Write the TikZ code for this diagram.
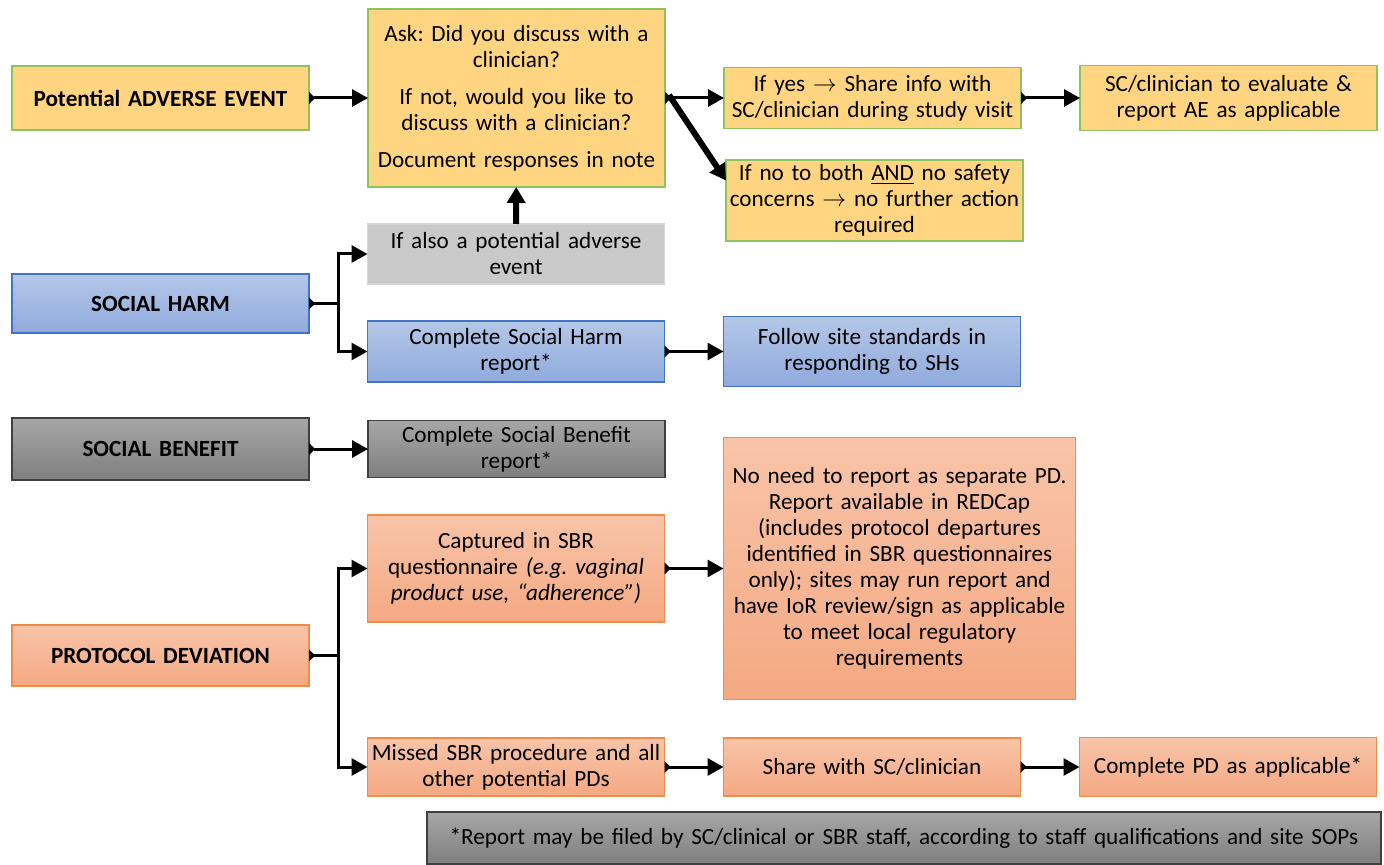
\documentclass[tikz,border=0pt]{standalone}
\usepackage{fontspec}
\setmainfont{Carlito}
\usetikzlibrary{arrows.meta, positioning}
\definecolor{aeyellow}{HTML}{FFD581}
\definecolor{aegreen}{HTML}{8CC35C}
\definecolor{shtop}{HTML}{B4C7E7}
\definecolor{shbot}{HTML}{8FAADC}
\definecolor{shborder}{HTML}{4472C4}
\definecolor{sbtop}{HTML}{A6A6A6}
\definecolor{sbbot}{HTML}{7F7F7F}
\definecolor{sbborder}{HTML}{404040}
\definecolor{pdtop}{HTML}{F8C4A8}
\definecolor{pdbot}{HTML}{F4A983}
\definecolor{pdborder}{HTML}{F08C4A}
\definecolor{alsofill}{HTML}{C9C9C9}
\definecolor{alsoborder}{HTML}{D6D6D6}
\frenchspacing

\begin{document}
\begin{tikzpicture}[x=0.5pt, y=-0.5pt, font=\fontsize{11.6}{13}\selectfont]
    \tikzstyle{box} = [rectangle, minimum width=148.5pt, text width=145pt, align=center, inner sep=1.5pt, outer sep=0pt, line width=0.6pt]
    \tikzstyle{aebox} = [box, draw=aegreen, fill=aeyellow]
    \tikzstyle{shbox} = [box, draw=shborder, top color=shtop, bottom color=shbot]
    \tikzstyle{sbbox} = [box, draw=sbborder, top color=sbtop, bottom color=sbbot]
    \tikzstyle{pdbox} = [box, draw=pdborder, top color=pdtop, bottom color=pdbot]
    \tikzstyle{flow} = [line width=1.5pt, {Triangle[reversed, length=3pt, width=6pt]}-{Triangle[length=8pt, width=8.5pt]}]
    \tikzstyle{stem} = [line width=1.5pt, {Triangle[reversed, length=3pt, width=6pt]}-]
    \tikzstyle{branch} = [line width=1.5pt, -{Triangle[length=8pt, width=8.5pt]}]
    \tikzstyle{bigflow} = [line width=3pt, -{Triangle[length=8pt, width=9pt]}]

    \useasboundingbox (0,0) rectangle (1384,865);

    % adverse event row
    \node (pae) [aebox, minimum height=32pt] at (160.5,98) {\textbf{Potential ADVERSE EVENT}};
    \node (ask) [aebox, minimum height=89pt] at (516.5,98) {Ask: Did you discuss with a\\ clinician?\\[5.5pt] If not, would you like to\\ discuss with a clinician?\\[5.5pt] Document responses in note};
    \node (yes) [aebox, minimum height=30.5pt, right=29.5pt of ask] {If yes $\rightarrow$ Share info with\\ SC/clinician during study visit};
    \node (eval) [aebox, minimum height=32.5pt, right=29.5pt of yes] {SC/clinician to evaluate \&\\ report AE as applicable};
    \node (no) [aebox, minimum height=40.5pt] at (874.5,200.5) {If no to both \underline{AND} no safety\\ concerns $\rightarrow$ no further action\\ required};

    % social harm
    \node (also) [box, draw=alsoborder, fill=alsofill, minimum height=30pt] at (516,254) {If also a potential adverse\\ event};
    \node (sh) [shbox, minimum height=29.5pt] at (160.5,303.5) {\textbf{SOCIAL HARM}};
    \node (shrep) [shbox, minimum height=30.5pt] at (516,351.5) {Complete Social Harm\\ report*};
    \node (follow) [shbox, minimum height=35pt, right=29.5pt of shrep] {Follow site standards in\\ responding to SHs};

    % social benefit
    \node (sb) [sbbox, minimum height=31pt] at (160.5,449) {\textbf{SOCIAL BENEFIT}};
    \node (sbrep) [sbbox, minimum height=28.5pt, right=29.5pt of sb] {Complete Social Benefit\\ report*};

    % protocol deviation
    \node (capt) [pdbox, minimum height=53.5pt] at (516,568.5) {Captured in SBR\\ questionnaire \textit{(e.g. vaginal}\\ \textit{product use, “adherence”)}};
    \node (noneed) [pdbox, minimum width=176pt, text width=172pt, minimum height=131pt, right=29.5pt of capt] {No need to report as separate PD.\\ Report available in REDCap\\ (includes protocol departures\\ identified in SBR questionnaires\\ only); sites may run report and\\ have IoR review/sign as applicable\\ to meet local regulatory\\ requirements};
    \node (pd) [pdbox, minimum height=30.5pt] at (160.5,655.5) {\textbf{PROTOCOL DEVIATION}};
    \node (missed) [pdbox, minimum height=29pt] at (516,767) {Missed SBR procedure and all\\ other potential PDs};
    \node (share) [pdbox, minimum height=29pt, right=29.5pt of missed] {Share with SC/clinician};
    \node (cpd) [pdbox, minimum height=29.5pt, right=29.5pt of share] {Complete PD as applicable*};

    \node (foot) [sbbox, minimum width=477pt, text width=474pt, minimum height=26pt] at (904,838) {*Report may be filed by SC/clinical or SBR staff, according to staff qualifications and site SOPs};

    % connectors
    \draw [flow] (pae) -- (ask);
    \draw [flow] (ask.east) -- (yes.west);
    \draw [flow] (yes) -- (eval);
    \draw [bigflow] ([xshift=2pt, yshift=1.5pt]ask.east) -- ([yshift=10pt]no.west);
    \draw [bigflow] (also) -- (ask);

    \draw [stem] (sh.east) -- ++(14.5pt,0) coordinate (shj);
    \draw [branch] (shj) |- (also.west);
    \draw [branch] (shj) |- (shrep.west);
    \draw [flow] (shrep) -- (follow);

    \draw [flow] (sb) -- (sbrep);

    \draw [stem] (pd.east) -- ++(14.5pt,0) coordinate (pdj);
    \draw [branch] (pdj) |- (capt.west);
    \draw [branch] (pdj) |- (missed.west);
    \draw [flow] (capt) -- (noneed);
    \draw [flow] (missed) -- (share);
    \draw [flow] (share) -- (cpd);
\end{tikzpicture}
\end{document}
